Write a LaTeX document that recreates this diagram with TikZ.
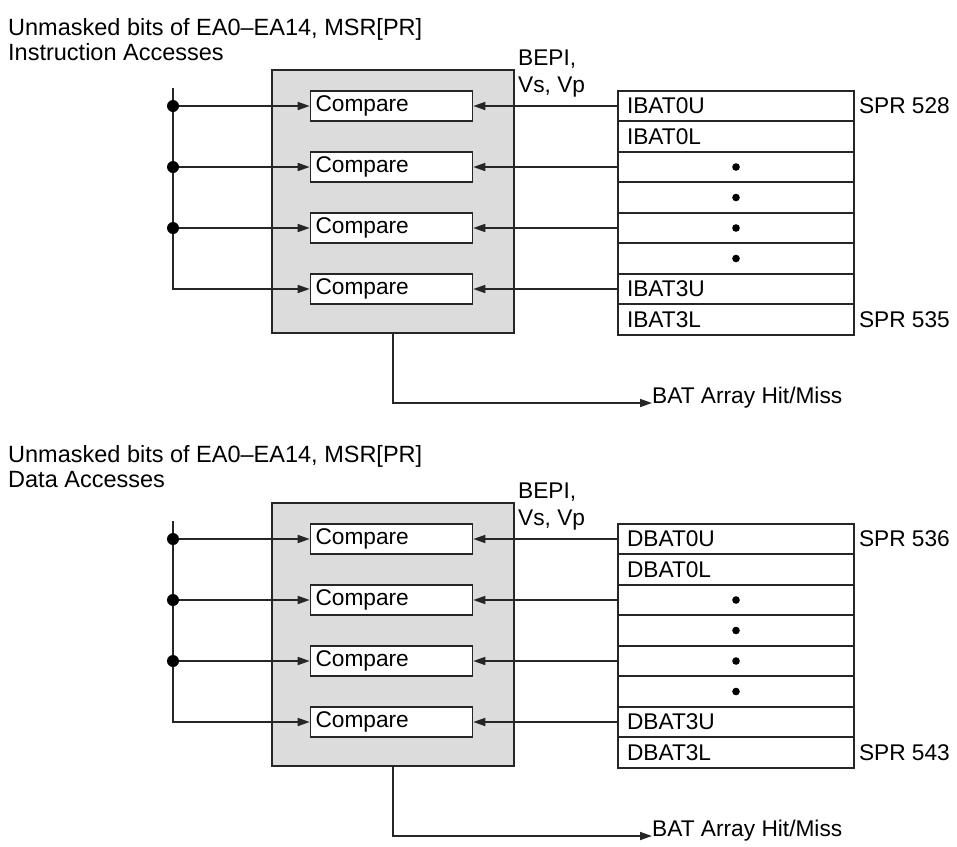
\documentclass[tikz,border=0pt]{standalone}
\usepackage{fontspec}
\setmainfont{Liberation Sans}
\usetikzlibrary{arrows.meta, positioning}
\definecolor{batGrey}{HTML}{DCDCDC}
\tikzset{
  wire/.style={line width=1.6pt, draw=black!85},
  feed/.style={wire, -{Triangle[length=12pt, width=8pt]}},
  blockbox/.style={draw=black!85, line width=1.6pt, fill=batGrey, minimum width=242pt,
                   minimum height=263pt, inner sep=0pt},
  cmpbox/.style={draw=black!85, line width=1.6pt, fill=white, text width=152pt, inner xsep=5pt,
                 inner ysep=0pt, minimum height=30pt, align=left},
  regbox/.style={draw=black!85, line width=1.6pt, fill=white, text width=218pt, inner xsep=9pt,
                 inner ysep=0pt, minimum height=30.5pt, align=left},
  txt/.style={inner sep=0pt, anchor=base west},
}

\begin{document}
\begin{tikzpicture}[x=1pt, y=-1pt, font=\fontsize{22.7}{26}\selectfont]
\useasboundingbox (0,0) rectangle (957,846);
\foreach \h/\off/\bat/\spa/\spb/\kind/\tsh in
    {0/0/I/528/535/Instruction/0, 1/433/D/536/543/Data/-6} {
  % headings
  \node[txt, font=\fontsize{23.5}{26}\selectfont] (head\h) at (8,35+\off+\tsh)
    {Unmasked bits of EA0--EA14, MSR[PR]};
  \node[txt, font=\fontsize{23.5}{26}\selectfont] (kind\h) at (8,60+\off+\tsh) {\kind\ Accesses};
  % grey block with the four comparators
  \node[blockbox] (blk\h) at (393,201.5+\off) {};
  \foreach \i in {0,1,2,3} {
    \node[cmpbox] (cmp\h-\i) at (391.5,106+61*\i+\off) {Compare};
  }
  % BAT register pairs
  \foreach \r/\t in {0/\bat BAT0U, 1/\bat BAT0L, 2/, 3/, 4/, 5/, 6/\bat BAT3U, 7/\bat BAT3L} {
    \node[regbox] (reg\h-\r) at (736,106+30.5*\r+\off) {\t};
  }
  \foreach \r in {2,...,5} {
    \fill (reg\h-\r.center) circle (3.8pt);
  }
  \node[txt, anchor=west, right=4pt of reg\h-0.east] (spra\h) {SPR \spa};
  \node[txt, anchor=west, right=4pt of reg\h-7.east] (sprb\h) {SPR \spb};
  \node[txt] (bepi\h) at (518,65+\off) {BEPI,};
  \node[txt] (vsvp\h) at (518,92+\off) {Vs, Vp};
  % register fields into the comparators
  \foreach \i/\r in {0/0, 1/2, 2/4, 3/6} {
    \draw[feed] (reg\h-\r.west) -- (cmp\h-\i.east);
  }
  % effective address bus
  \coordinate (bus\h) at (173,88+\off);
  \draw[feed] (bus\h) |- (cmp\h-3.west);
  \foreach \i in {0,1,2} {
    \draw[feed] (bus\h |- cmp\h-\i.west) -- (cmp\h-\i.west);
    \fill (bus\h |- cmp\h-\i.west) circle (6pt);
  }
  % hit/miss output
  \node[txt] (hit\h) at (652,403+\off) {BAT Array Hit/Miss};
  \draw[feed] (blk\h.south) |- (hit\h.base west);
}
\end{tikzpicture}
\end{document}
